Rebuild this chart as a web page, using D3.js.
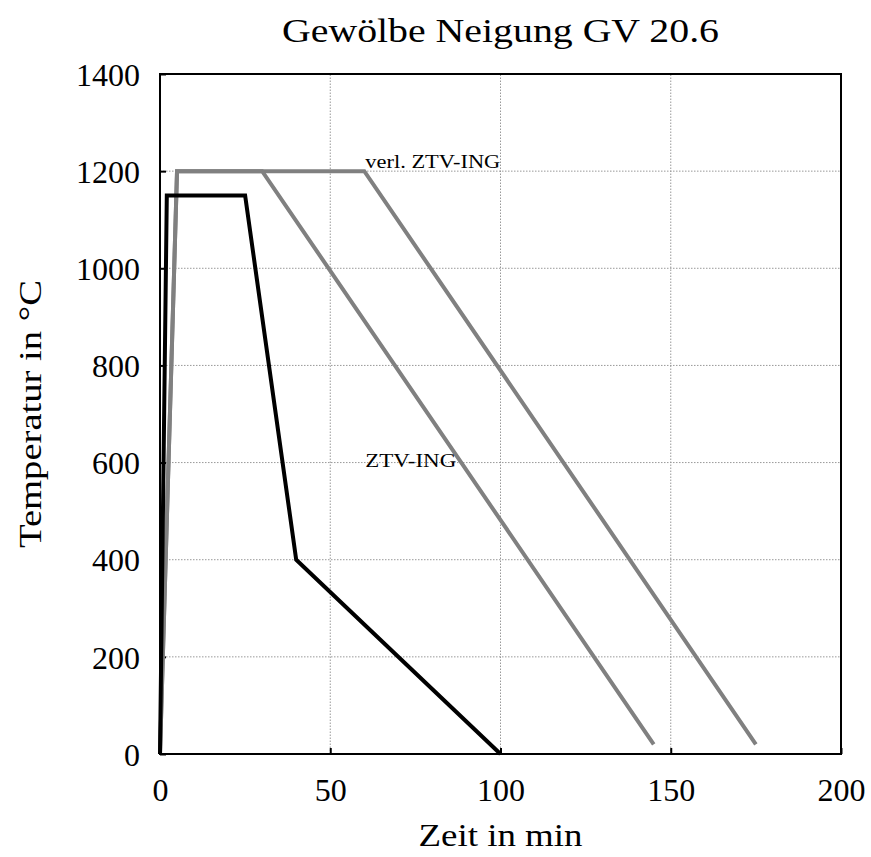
<!DOCTYPE html>
<html><head><meta charset="utf-8">
<script src="https://cdn.jsdelivr.net/npm/d3@7"></script>
<style>body{margin:0;background:#fff}svg{display:block}</style>
</head><body>
<script>
const title = "Gewölbe Neigung GV 20.6";
const xLabel = "Zeit in min";
const yLabel = "Temperatur in °C";
const xTicks = [0, 50, 100, 150, 200];
const yTicks = [0, 200, 400, 600, 800, 1000, 1200, 1400];
// measured curve (black)
const measuredTime = [0, 2, 25, 40, 100];
const measuredTemp = [0, 1150, 1150, 400, 0];
// ZTV-ING (grey)
const ztvTime = [0, 5, 30, 145];
const ztvTemp = [0, 1200, 1200, 20];
// verl. ZTV-ING (grey)
const verlTime = [0, 5, 60, 175];
const verlTemp = [0, 1200, 1200, 20];
const labels = [{text: "verl. ZTV-ING", t: 60, v: 1207, w: 135}, {text: "ZTV-ING", t: 60, v: 590, w: 91}];

const W = 871, H = 857;
const m = {left: 160, right: 30, top: 74, bottom: 103};
const font = "'Liberation Serif', 'DejaVu Serif', serif";
const svg = d3.select("body").append("svg").attr("width", W).attr("height", H)
  .style("font-family", font);
const x = d3.scaleLinear().domain([0, 200]).range([m.left, W - m.right]);
const y = d3.scaleLinear().domain([0, 1400]).range([H - m.bottom, m.top]);

// grid
svg.append("g").selectAll("line").data(xTicks.filter(d => d > 0 && d < 200)).join("line")
  .attr("x1", d => x(d)).attr("x2", d => x(d)).attr("y1", y(0)).attr("y2", y(1400))
  .attr("stroke", "#999").attr("stroke-width", 1).attr("stroke-dasharray", "1.5,1.5");
svg.append("g").selectAll("line").data(yTicks.filter(d => d > 0 && d < 1400)).join("line")
  .attr("x1", x(0)).attr("x2", x(200)).attr("y1", d => y(d)).attr("y2", d => y(d))
  .attr("stroke", "#999").attr("stroke-width", 1).attr("stroke-dasharray", "1.5,1.5");

// axes
const fmt = d3.format("d");
const xAxis = svg.append("g").attr("transform", `translate(0,${y(0)})`)
  .call(d3.axisBottom(x).tickValues(xTicks).tickFormat(fmt).tickSizeInner(-6).tickSizeOuter(0).tickPadding(24));
const yAxis = svg.append("g").attr("transform", `translate(${x(0)},0)`)
  .call(d3.axisLeft(y).tickValues(yTicks).tickFormat(fmt).tickSizeInner(-6).tickSizeOuter(0).tickPadding(20));
[xAxis, yAxis].forEach(a => {
  a.select(".domain").remove();
  a.selectAll(".tick line").attr("stroke", "#000").attr("stroke-width", 2);
  a.selectAll(".tick text").attr("font-size", 32).attr("font-family", font).attr("fill", "#000");
});
xAxis.selectAll(".tick text").attr("dy", "0.71em").attr("y", 24);
yAxis.selectAll(".tick text").attr("dy", "0.35em");

// lines
const line = d3.line().x(d => x(d[0])).y(d => y(d[1]));
const series = [
  {t: ztvTime, v: ztvTemp, c: "#808080"},
  {t: verlTime, v: verlTemp, c: "#808080"},
  {t: measuredTime, v: measuredTemp, c: "#000"}
];
series.forEach(s => {
  svg.append("path").datum(s.t.map((t, i) => [t, s.v[i]]))
    .attr("d", line).attr("fill", "none").attr("stroke", s.c)
    .attr("stroke-width", 4).attr("stroke-linejoin", "miter");
});

// frame
svg.append("rect").attr("x", x(0)).attr("y", y(1400)).attr("width", x(200) - x(0)).attr("height", y(0) - y(1400))
  .attr("fill", "none").attr("stroke", "#000").attr("stroke-width", 2);

// labels
svg.append("g").selectAll("text").data(labels).join("text")
  .attr("x", d => x(d.t) + 1).attr("y", d => y(d.v)).attr("font-size", 19)
  .attr("textLength", d => d.w).attr("lengthAdjust", "spacingAndGlyphs").text(d => d.text);

svg.append("text").attr("x", (x(0) + x(200)) / 2).attr("y", 42).attr("text-anchor", "middle")
  .attr("font-size", 34).attr("textLength", 437).attr("lengthAdjust", "spacingAndGlyphs").text(title);
svg.append("text").attr("x", (x(0) + x(200)) / 2).attr("y", 846).attr("text-anchor", "middle")
  .attr("font-size", 32).attr("textLength", 164).attr("lengthAdjust", "spacingAndGlyphs").text(xLabel);
svg.append("text").attr("transform", `translate(41,${(y(0) + y(1400)) / 2}) rotate(-90)`)
  .attr("text-anchor", "middle").attr("font-size", 32)
  .attr("textLength", 268).attr("lengthAdjust", "spacingAndGlyphs").text(yLabel);
</script>
</body></html>
